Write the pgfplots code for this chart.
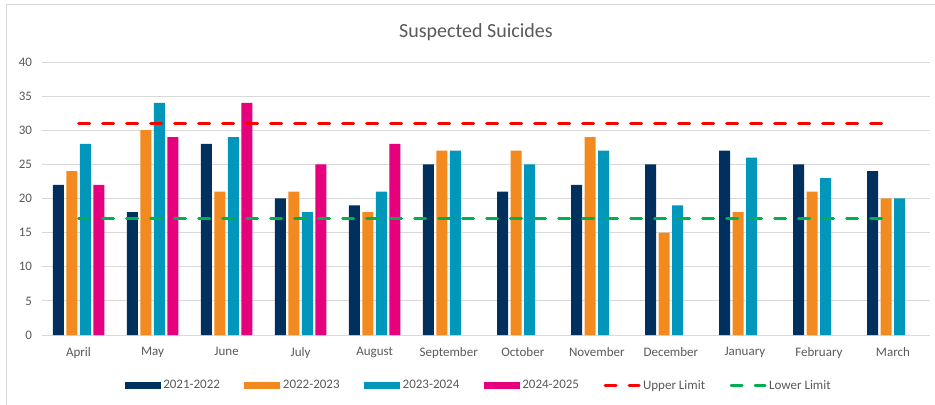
\documentclass[border=0pt]{standalone}
\usepackage{fontspec}
\setmainfont{Carlito}
\usepackage{pgfplots}
\pgfplotsset{compat=1.18}
\definecolor{cNavy}{HTML}{00305E}
\definecolor{cOrange}{HTML}{F28A1F}
\definecolor{cTeal}{HTML}{0097BA}
\definecolor{cPink}{HTML}{E6007E}
\definecolor{cRed}{HTML}{FF0000}
\definecolor{cGreen}{HTML}{00B050}
\definecolor{cText}{HTML}{595959}
\definecolor{cGrid}{HTML}{D9D9D9}
\begin{document}
\begin{tikzpicture}
\useasboundingbox (0,0) rectangle (935bp,405bp);
\draw[cGrid, line width=0.9bp] (6bp,0) -- (6bp,400.5bp) -- (935bp,400.5bp);
\node[text=cText, font=\fontsize{20bp}{23bp}\selectfont, anchor=center] at (476bp,373bp) {Suspected Suicides};
\begin{axis}[
  at={(41.5bp,70bp)}, anchor=south west,
  scale only axis, width=888.5bp, height=273bp,
  xmin=-0.5, xmax=11.5, ymin=0, ymax=40,
  ytick={0,5,...,40},
  xtick={0,...,11},
  xticklabels={April,May,June,July,August,September,October,November,December,January,February,March},
  axis line style={draw=none},
  major tick length=0pt,
  ymajorgrids, grid style={color=cGrid, line width=0.9bp},
  /pgf/number format/assume math mode=true,
  tick label style={text=cText, font=\fontsize{13bp}{15bp}\selectfont},
  yticklabel style={xshift=-6bp},
  xticklabel style={yshift=-9bp},
  legend columns=6,
  legend style={at={(0.4924,-0.185)}, anchor=center, draw=none, fill=none,
    font=\fontsize{13bp}{15bp}\selectfont, text=cText,
    inner xsep=0pt, inner ysep=0pt,
    nodes={inner xsep=2.5bp, inner ysep=1bp},
    /tikz/every even column/.append style={column sep=22bp}},
  clip=false,
]
\pgfplotsset{
  barleg/.style={legend image code/.code={\fill[##1] (0bp,-3.5bp) rectangle (36bp,3.5bp);}},
  lineleg/.style={legend image code/.code={\draw[##1] (1.5bp,0bp) -- (35.5bp,0bp);}},
}
\addplot[ybar, bar width=11bp, bar shift=-20.25bp, fill=cNavy, draw=none, barleg] coordinates {
 (0,22) (1,18) (2,28) (3,20) (4,19) (5,25) (6,21) (7,22) (8,25) (9,27) (10,25) (11,24)};
\addlegendentry{2021-2022}
\addplot[ybar, bar width=11bp, bar shift=-6.75bp, fill=cOrange, draw=none, barleg] coordinates {
 (0,24) (1,30) (2,21) (3,21) (4,18) (5,27) (6,27) (7,29) (8,15) (9,18) (10,21) (11,20)};
\addlegendentry{2022-2023}
\addplot[ybar, bar width=11bp, bar shift=6.75bp, fill=cTeal, draw=none, barleg] coordinates {
 (0,28) (1,34) (2,29) (3,18) (4,21) (5,27) (6,25) (7,27) (8,19) (9,26) (10,23) (11,20)};
\addlegendentry{2023-2024}
\addplot[ybar, bar width=11bp, bar shift=20.25bp, fill=cPink, draw=none, barleg] coordinates {
 (0,22) (1,29) (2,34) (3,25) (4,28)};
\addlegendentry{2024-2025}
\addplot[cRed, line width=3bp, line cap=round, dash pattern=on 11bp off 13bp, lineleg] coordinates {
 (0,31) (1,31) (2,31) (3,31) (4,31) (5,31) (6,31) (7,31) (8,31) (9,31) (10,31) (11,31)};
\addlegendentry{Upper Limit}
\addplot[cGreen, line width=3bp, line cap=round, dash pattern=on 11bp off 13bp, lineleg] coordinates {
 (0,17) (1,17) (2,17) (3,17) (4,17) (5,17) (6,17) (7,17) (8,17) (9,17) (10,17) (11,17)};
\addlegendentry{Lower Limit}
\end{axis}
\end{tikzpicture}
\end{document}
